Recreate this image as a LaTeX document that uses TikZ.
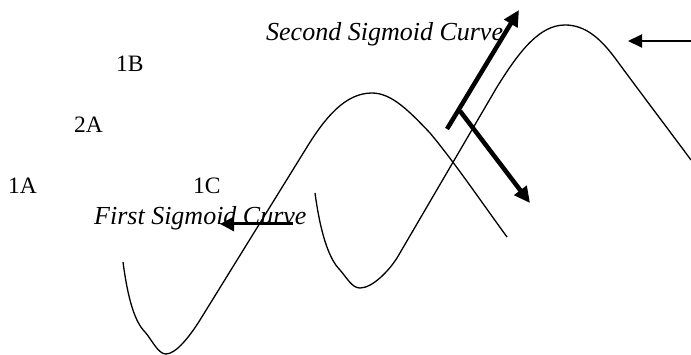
\documentclass[tikz,border=0pt]{standalone}
\usepackage{fontspec}
\setmainfont{Liberation Serif}
\usetikzlibrary{arrows.meta}
\begin{document}
\begin{tikzpicture}[x=1pt,y=-1pt,
  lbl/.style={anchor=base west,inner sep=0pt,font=\fontsize{23.5}{26}\selectfont},
  title/.style={anchor=base west,inner sep=0pt,font=\fontsize{26}{30}\selectfont\itshape},
  curve/.style={line width=1.3pt,line join=round},
  bigarrow/.style={line width=4.5pt,-{Triangle[length=16pt,width=15pt]}},
  thinarrow/.style={line width=2pt,-{Triangle[length=14pt,width=13pt]}},
  midarrow/.style={line width=3pt,-{Triangle[length=14pt,width=14pt]}}]
\useasboundingbox (0,0) rectangle (691,355);
% labels
\node[lbl] (l1a) at (8,194) {1A};
\node[lbl] (l2a) at (74,133) {2A};
\node[lbl] (l1b) at (116,72) {1B};
\node[lbl] (l1c) at (193,194) {1C};
\node[title] (first) at (94,225) {First Sigmoid Curve};
\node[title] (second) at (266,41) {Second Sigmoid Curve};
% first curve
\draw[curve] (123,262) .. controls (128,300) and (135,322) .. (145,332)
  .. controls (152,340) and (158,354) .. (166,354)
  .. controls (176,354) and (190,336) .. (200,320)
  -- (307,147)
  .. controls (325,118) and (345,93) .. (372,93)
  .. controls (392,93) and (410,112) .. (430,133)
  .. controls (455,163) and (480,200) .. (507,237);
% second curve
\draw[curve] (315,193) .. controls (320,230) and (328,258) .. (340,270)
  .. controls (347,278) and (352,288) .. (360,288)
  .. controls (372,288) and (388,272) .. (397,258)
  -- (497,87)
  .. controls (520,50) and (540,25) .. (565,25)
  .. controls (585,25) and (600,38) .. (615,58)
  .. controls (640,92) and (665,125) .. (691,160);
% arrows
\coordinate (a1s) at (447,129);
\coordinate (a1e) at (519,10);
\coordinate (a2s) at (460,111);
\coordinate (a2e) at (530,203);
\coordinate (a3s) at (691,41);
\coordinate (a3e) at (628,41);
\coordinate (a4s) at (293,224);
\coordinate (a4e) at (220,224);
\draw[bigarrow] (a1s) -- (a1e);
\draw[bigarrow] (a2s) -- (a2e);
\draw[thinarrow] (a3s) -- (a3e);
\draw[midarrow] (a4s) -- (a4e);
\end{tikzpicture}
\end{document}
